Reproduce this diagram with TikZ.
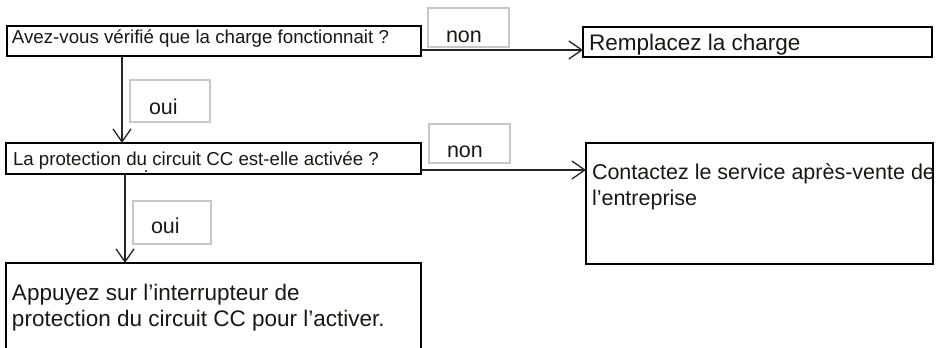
\documentclass[tikz,border=0pt]{standalone}
\usepackage{fontspec}
\setmainfont{Liberation Sans}
\usetikzlibrary{arrows.meta}
\definecolor{txtcol}{RGB}{25,25,20}
\definecolor{lblgray}{RGB}{200,200,200}
\begin{document}
\begin{tikzpicture}[x=1pt,y=-1pt,
  box/.style={draw=black, line width=1.6pt, inner sep=0pt, outer sep=0pt, rectangle, anchor=north west},
  lbl/.style={draw=lblgray, line width=1.3pt, inner sep=0pt, outer sep=0pt, rectangle, anchor=north west},
  txt/.style={inner sep=0pt, outer sep=0pt, text=txtcol, anchor=base west},
  small/.style={font=\fontsize{18.7}{22}\selectfont},
  big/.style={font=\fontsize{21.5}{26}\selectfont},
  bigger/.style={font=\fontsize{22.5}{27}\selectfont},
  arr/.style={draw=black!85, line width=1.3pt, -{Straight Barb[length=13pt,width=18pt,line width=1.3pt]}}]
\clip (0,0) rectangle (943,348);
\fill[white] (0,0) rectangle (943,348);
% boxes
\node[box, minimum width=414pt, minimum height=30pt] (b1) at (7,26) {};
\node[box, minimum width=349pt, minimum height=30pt] (b2) at (583,27) {};
\node[box, minimum width=415pt, minimum height=31pt] (b3) at (6,143) {};
\node[box, minimum width=347pt, minimum height=121pt] (b4) at (586,143) {};
\node[box, minimum width=415pt, minimum height=120pt] (b5) at (6,263) {};
% label boxes
\node[lbl, minimum width=81pt, minimum height=39pt] (l1) at (428,8) {};
\node[lbl, minimum width=80pt, minimum height=42pt] (l2) at (130,80) {};
\node[lbl, minimum width=81pt, minimum height=39pt] (l3) at (429,124) {};
\node[lbl, minimum width=78pt, minimum height=43pt] (l4) at (133,201) {};
% texts
\node[txt, small] (t1) at (12,43) {Avez-vous vérifié que la charge fonctionnait ?};
\node[txt, bigger] (t2) at (589,50) {Remplacez la charge};
\node[txt, small] (t3) at (13,165) {La protection du circuit CC est-elle activée ?};
\node[txt, big] (t4a) at (592,179) {Contactez le service après-vente de};
\node[txt, big] (t4b) at (592,205) {l’entreprise};
\node[txt, bigger] (t5a) at (12,300) {Appuyez sur l’interrupteur de};
\node[txt, bigger] (t5b) at (12,326) {protection du circuit CC pour l’activer.};
\node[txt, big] (n1) at (446,42) {non};
\node[txt, big] (o1) at (149,114) {oui};
\node[txt, big] (n2) at (447,157) {non};
\node[txt, big] (o2) at (151,233) {oui};
\fill[txtcol] (146,171) circle (1.1pt);
% connectors
\draw[arr] ([yshift=6pt]b1.south east) -- ([yshift=7pt]b2.south west);
\draw[arr] ([xshift=115pt]b1.south west) -- ([xshift=116pt]b3.north west);
\draw[arr] ([yshift=4pt]b3.south east) -- ([yshift=-27pt]b4.north west);
\draw[arr] ([xshift=119pt]b3.south west) -- ([xshift=119pt]b5.north west);
\end{tikzpicture}
\end{document}
